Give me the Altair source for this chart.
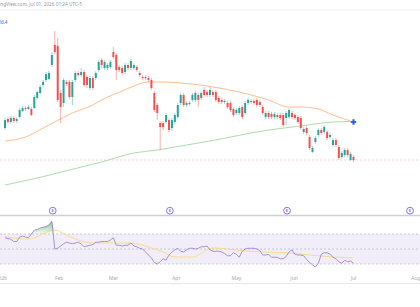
import altair as alt
import pandas as pd

# Daily OHLC, Jan–Jun 2026
opens = [122, 131, 128, 132, 129, 133, 139, 142, 141, 141,
         142, 152, 157, 165, 170, 171, 185, 205, 204, 157,
         147, 168, 168, 153, 170, 177, 175, 178, 173, 162,
         172, 172, 180, 190, 182, 182, 183, 198, 195, 183,
         182, 178, 185, 182, 182, 183, 177, 173, 172, 172,
         170, 157, 145, 127, 127, 128, 130, 122, 128, 133,
         147, 155, 145, 147, 150, 150, 155, 152, 160, 158,
         155, 158, 158, 152, 150, 148, 147, 147, 141, 137,
         137, 143, 137, 147, 149, 149, 150, 148, 143, 133,
         137, 136, 133, 135, 135, 135, 132, 133, 137, 135,
         133, 132, 118, 122, 113, 98, 108, 115, 120, 118,
         118, 113, 105, 110, 103, 93, 95, 100, 90, 93]
closes = [130, 128, 132, 129, 131, 140, 142, 141, 143, 135,
          153, 158, 163, 168, 176, 177, 195, 198, 150, 143,
          170, 166, 153, 168, 177, 175, 178, 165, 165, 172,
          162, 177, 188, 185, 188, 185, 188, 193, 180, 180,
          177, 185, 182, 189, 185, 180, 175, 172, 173, 170,
          162, 140, 137, 123, 123, 135, 120, 130, 135, 145,
          155, 145, 147, 146, 155, 157, 150, 157, 155, 155,
          160, 155, 150, 148, 148, 149, 143, 140, 135, 140,
          142, 133, 147, 150, 148, 147, 145, 145, 137, 137,
          133, 133, 136, 133, 132, 125, 137, 140, 133, 132,
          128, 122, 121, 117, 102, 102, 112, 120, 117, 123,
          112, 115, 110, 105, 92, 97, 100, 95, 96, 90]
highs = [132, 133, 134, 134, 133, 142, 144, 144, 145, 143,
         155, 159, 165, 170, 178, 179, 198, 219, 212, 160,
         172, 170, 170, 170, 179, 179, 182, 180, 175, 174,
         174, 179, 190, 192, 190, 187, 190, 203, 197, 185,
         184, 187, 187, 191, 187, 185, 179, 175, 175, 174,
         172, 159, 147, 129, 129, 137, 132, 132, 137, 147,
         157, 157, 149, 149, 157, 159, 157, 159, 163, 160,
         163, 160, 160, 154, 152, 151, 149, 149, 143, 142,
         144, 145, 149, 152, 151, 151, 152, 150, 145, 139,
         139, 138, 138, 137, 137, 137, 139, 142, 139, 137,
         135, 134, 123, 124, 115, 104, 114, 122, 122, 125,
         120, 117, 112, 112, 105, 99, 102, 102, 98, 95]
lows = [120, 126, 126, 127, 127, 132, 138, 139, 140, 134,
        141, 150, 156, 163, 168, 170, 183, 196, 148, 127,
        143, 164, 151, 145, 168, 173, 173, 163, 162, 160,
        160, 170, 178, 182, 180, 180, 181, 191, 170, 178,
        175, 176, 180, 180, 180, 178, 173, 170, 170, 168,
        160, 138, 130, 100, 120, 126, 118, 119, 126, 131,
        145, 143, 143, 144, 148, 148, 143, 150, 153, 153,
        153, 153, 148, 146, 146, 146, 141, 138, 133, 135,
        135, 131, 135, 145, 146, 145, 143, 143, 135, 131,
        131, 131, 131, 131, 130, 123, 125, 131, 131, 130,
        126, 120, 116, 115, 100, 97, 106, 113, 115, 116,
        110, 111, 103, 103, 90, 91, 93, 93, 89, 88]

# RSI(14) per bar
rsi = [65, 64, 63, 60, 60, 66, 67, 66, 65, 70,
       75, 76, 78, 79, 80, 82, 87, 50, 51, 54,
       57, 59, 58, 57, 58, 59, 57, 53, 54, 55,
       56, 59, 59, 60, 60, 60, 62, 65, 55, 55,
       54, 55, 55, 58, 54, 53, 51, 50, 46, 42,
       38, 32, 30, 33, 37, 35, 42, 46, 49, 51,
       47, 46, 49, 51, 51, 50, 51, 53, 53, 54,
       49, 47, 47, 47, 46, 44, 41, 41, 45, 43,
       39, 47, 50, 51, 51, 51, 50, 48, 42, 42,
       43, 39, 39, 39, 37, 37, 40, 46, 49, 43,
       42, 42, 41, 36, 32, 29, 26, 31, 43, 45,
       45, 43, 39, 37, 33, 31, 35, 33, 34, 31]

# RSI moving average (bar index, value)
rsi_ma_idx = [0, 8, 17, 22, 30, 37, 43, 49, 54, 58, 60, 64, 69, 71, 76, 82, 89, 97, 104, 112, 119]
rsi_ma_val = [66.4, 63.3, 75.3, 66.4, 58, 58, 58, 52.7, 46, 39.3, 39.3, 39.3, 48.7, 51.3, 50, 47.3, 46, 44.7, 42, 39.3, 38]

# Price moving averages (bar index, value)
ma_fast_idx = [0, 7, 13, 17, 23, 30, 33, 40, 44, 49, 55, 60, 69, 80, 90, 97, 101, 107, 112, 119]
ma_fast_val = [109, 113, 122, 128, 137, 145, 150, 159, 164, 168, 168, 167, 164, 158, 150, 143, 143, 141, 135, 128]
ma_slow_idx = [0, 11, 22, 33, 44, 52, 60, 70, 90, 101, 112, 119]
ma_slow_val = [65, 72, 80, 88, 97, 100, 104, 109, 120, 124, 128, 128.5]

rsi_levels = [70, 50, 30]

month_labels = ["2026", "Feb", "Mar", "Apr", "May", "Jun", "Jul", "Aug"]
month_pos = [-1.3, 18.5, 37, 58.5, 79, 98.7, 119, 140.3]
event_pos = [16.3, 56.3, 96.3, 138.3]

stamp = "TradingView.com, Jul 01, 2026 01:24 UTC-5"
legend_value = "126.4"

FONT = "Noto Sans"
GREEN = "#26A69A"
RED = "#EF5350"

bars = pd.DataFrame({"i": list(range(len(opens))), "open": opens, "close": closes,
                     "high": highs, "low": lows, "rsi": rsi})

x_scale = alt.Scale(domain=[0, 140], nice=False, zero=False)
price_scale = alt.Scale(domain=[34, 240], range=[216, 10], nice=False, zero=False)
rsi_scale = alt.Scale(domain=[0, 100], range=[286.5, 211.5], nice=False, zero=False)

X = alt.X("i:Q", scale=x_scale, axis=None)


def py(field):
    return alt.Y(field, scale=price_scale, axis=None)


def ry(field):
    return alt.Y(field, scale=rsi_scale, axis=None)


candle_color = alt.when(alt.datum.close >= alt.datum.open).then(alt.value(GREEN)).otherwise(alt.value(RED))

base = alt.Chart(bars)

wicks = base.mark_rule(strokeWidth=1, opacity=0.45).encode(
    x=X, y=py("low:Q"), y2="high:Q", color=candle_color)
bodies = base.mark_bar(size=2).encode(
    x=X, y=py("open:Q"), y2="close:Q", color=candle_color)

fast_df = pd.DataFrame({"i": ma_fast_idx, "v": ma_fast_val})
slow_df = pd.DataFrame({"i": ma_slow_idx, "v": ma_slow_val})

ma_fast = alt.Chart(fast_df).mark_line(color="#FFBE8E", strokeWidth=1, interpolate="monotone").encode(
    x=X, y=py("v:Q"))
ma_slow = alt.Chart(slow_df).mark_line(color="#AEDBAE", strokeWidth=1, interpolate="monotone").encode(
    x=X, y=py("v:Q"))
cross_dot = alt.Chart(fast_df.tail(1)).mark_point(shape="cross", filled=True, size=28,
                                                  color="#2962FF", opacity=1).encode(x=X, y=py("v:Q"))

last_price = alt.Chart(pd.DataFrame({"p": [closes[-1]]})).mark_rule(
    color="#F7525F", opacity=0.3, strokeDash=[2, 2], strokeWidth=1).encode(
    y=py("p:Q"), x=alt.value(0), x2=alt.value(420))

# RSI pane
band = alt.Chart(pd.DataFrame({"hi": [rsi_levels[0]], "lo": [rsi_levels[2]]})).mark_rect(
    color="#7E57C2", opacity=0.1).encode(x=alt.value(0), x2=alt.value(420), y=ry("hi:Q"), y2="lo:Q")
levels = alt.Chart(pd.DataFrame({"lvl": rsi_levels})).mark_rule(
    color="#9598A1", strokeDash=[2, 2], strokeWidth=0.8, opacity=0.6).encode(
    y=ry("lvl:Q"), x=alt.value(0), x2=alt.value(420))
overbought = base.transform_calculate(ob="max(datum.rsi, 70)").mark_area(
    fill=alt.Gradient(gradient="linear",
                      stops=[alt.GradientStop(color="rgba(76,175,80,0.7)", offset=0),
                             alt.GradientStop(color="rgba(76,175,80,0.05)", offset=1)],
                      x1=1, x2=1, y1=0, y2=1)).encode(x=X, y=ry("ob:Q"), y2=alt.datum(70))
rsi_ma = alt.Chart(pd.DataFrame({"i": rsi_ma_idx, "v": rsi_ma_val})).mark_line(
    color="#F8DC86", strokeWidth=1, interpolate="monotone").encode(x=X, y=ry("v:Q"))
rsi_line = base.mark_line(color="#9D86D9", strokeWidth=0.9).encode(x=X, y=ry("rsi:Q"))

# Frame lines
frame = alt.Chart(pd.DataFrame({"y": [10, 215.5, 283.5], "w": [1, 1.6, 1],
                                "c": ["#EEF0F4", "#CDD0D6", "#E6E8EC"]})).mark_rule().encode(
    x=alt.value(0), x2=alt.value(420), y=alt.Y("y:Q", scale=None),
    strokeWidth=alt.StrokeWidth("w:Q", scale=None, legend=None),
    color=alt.Color("c:N", scale=None, legend=None))

# Event markers
events = pd.DataFrame({"i": event_pos})
event_circles = alt.Chart(events).mark_point(shape="circle", size=46, filled=True, fill="white",
                                             stroke="#8C6FE6", strokeWidth=1, opacity=1).encode(
    x=X, y=alt.value(210.7))
event_text = alt.Chart(events.assign(t="E")).mark_text(fontSize=4.2, color="#8C6FE6", font=FONT,
                                                       fontWeight="bold", baseline="middle").encode(
    x=X, y=alt.value(210.9), text="t:N")

# Text
months = alt.Chart(pd.DataFrame({"i": month_pos, "t": month_labels})).mark_text(
    fontSize=5, color="#A6A9B0", font=FONT, baseline="middle").encode(x=X, y=alt.value(278), text="t:N")
header = alt.Chart(pd.DataFrame({"t": [stamp]})).mark_text(
    align="right", baseline="middle", fontSize=4.7, color="#9598A1", font=FONT).encode(
    x=alt.value(82), y=alt.value(5), text="t:N")
legend = alt.Chart(pd.DataFrame({"t": [legend_value]})).mark_text(
    align="right", baseline="middle", fontSize=4.7, color="#2962FF", font=FONT).encode(
    x=alt.value(7.5), y=alt.value(23), text="t:N")

chart = alt.layer(
    frame, band, levels, overbought, rsi_ma, rsi_line,
    last_price, ma_slow, ma_fast, wicks, bodies, cross_dot,
    event_circles, event_text, months, header, legend,
).resolve_scale(y="independent").properties(
    width=420, height=307, padding=0, autosize="none"
).configure_view(stroke=None)

chart.save("out.html", embed_options={"renderer": "svg", "actions": False})
